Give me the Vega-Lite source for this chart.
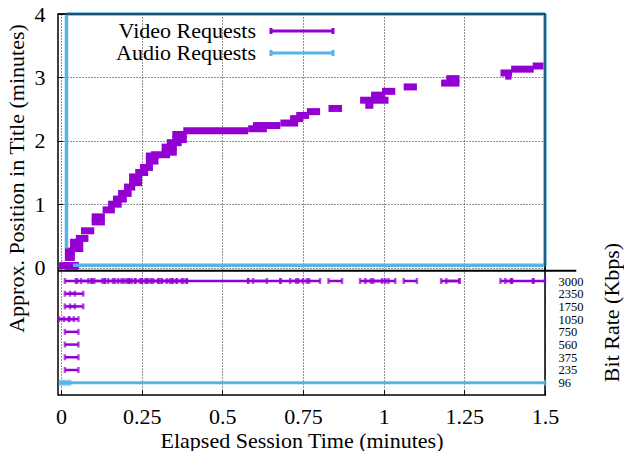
{
  "$schema": "https://vega.github.io/schema/vega-lite/v6.json",
  "autosize": {"type": "none"},
  "padding": {"left": 58, "top": 14, "right": 79, "bottom": 56},
  "width": 487,
  "height": 381,
  "config": {
    "font": "Liberation Serif",
    "view": {"stroke": "black", "strokeWidth": 1.5},
    "axis": {
      "labelFont": "Liberation Serif", "titleFont": "Liberation Serif",
      "labelColor": "black", "titleColor": "black", "titleFontWeight": "normal",
      "labelFontSize": 22, "titleFontSize": 22
    },
    "legend": {"labelFont": "Liberation Serif", "labelColor": "black"}
  },
  "datasets": {
    "video": [
      {"t0": -0.006, "t1": 0.025, "pos": 0.03, "rate": 1050, "series": "Video Requests"},
      {"t0": 0.009, "t1": 0.04, "pos": 0.03, "rate": 1050, "series": "Video Requests"},
      {"t0": 0.025, "t1": 0.054, "pos": 0.03, "rate": 1050, "series": "Video Requests"},
      {"t0": 0.012, "t1": 0.054, "pos": 0.03, "rate": 235, "series": "Video Requests"},
      {"t0": 0.012, "t1": 0.054, "pos": 0.03, "rate": 375, "series": "Video Requests"},
      {"t0": 0.012, "t1": 0.054, "pos": 0.03, "rate": 560, "series": "Video Requests"},
      {"t0": 0.012, "t1": 0.054, "pos": 0.03, "rate": 750, "series": "Video Requests"},
      {"t0": 0.012, "t1": 0.043, "pos": 0.16, "rate": 1750, "series": "Video Requests"},
      {"t0": 0.028, "t1": 0.069, "pos": 0.3, "rate": 1750, "series": "Video Requests"},
      {"t0": 0.012, "t1": 0.043, "pos": 0.26, "rate": 2350, "series": "Video Requests"},
      {"t0": 0.028, "t1": 0.069, "pos": 0.4, "rate": 2350, "series": "Video Requests"},
      {"t0": 0.012, "t1": 0.05, "pos": 0.03, "rate": 3000, "series": "Video Requests"},
      {"t0": 0.046, "t1": 0.085, "pos": 0.46, "rate": 3000, "series": "Video Requests"},
      {"t0": 0.062, "t1": 0.103, "pos": 0.58, "rate": 3000, "series": "Video Requests"},
      {"t0": 0.095, "t1": 0.136, "pos": 0.72, "rate": 3000, "series": "Video Requests"},
      {"t0": 0.095, "t1": 0.136, "pos": 0.8, "rate": 3000, "series": "Video Requests"},
      {"t0": 0.129, "t1": 0.167, "pos": 0.91, "rate": 3000, "series": "Video Requests"},
      {"t0": 0.146, "t1": 0.188, "pos": 1.0, "rate": 3000, "series": "Video Requests"},
      {"t0": 0.161, "t1": 0.204, "pos": 1.08, "rate": 3000, "series": "Video Requests"},
      {"t0": 0.177, "t1": 0.219, "pos": 1.17, "rate": 3000, "series": "Video Requests"},
      {"t0": 0.195, "t1": 0.23, "pos": 1.27, "rate": 3000, "series": "Video Requests"},
      {"t0": 0.211, "t1": 0.251, "pos": 1.34, "rate": 3000, "series": "Video Requests"},
      {"t0": 0.211, "t1": 0.251, "pos": 1.43, "rate": 3000, "series": "Video Requests"},
      {"t0": 0.23, "t1": 0.27, "pos": 1.5, "rate": 3000, "series": "Video Requests"},
      {"t0": 0.245, "t1": 0.285, "pos": 1.58, "rate": 3000, "series": "Video Requests"},
      {"t0": 0.263, "t1": 0.302, "pos": 1.68, "rate": 3000, "series": "Video Requests"},
      {"t0": 0.263, "t1": 0.302, "pos": 1.76, "rate": 3000, "series": "Video Requests"},
      {"t0": 0.279, "t1": 0.338, "pos": 1.78, "rate": 3000, "series": "Video Requests"},
      {"t0": 0.312, "t1": 0.359, "pos": 1.82, "rate": 3000, "series": "Video Requests"},
      {"t0": 0.312, "t1": 0.359, "pos": 1.9, "rate": 3000, "series": "Video Requests"},
      {"t0": 0.328, "t1": 0.374, "pos": 1.97, "rate": 3000, "series": "Video Requests"},
      {"t0": 0.345, "t1": 0.39, "pos": 2.02, "rate": 3000, "series": "Video Requests"},
      {"t0": 0.345, "t1": 0.39, "pos": 2.1, "rate": 3000, "series": "Video Requests"},
      {"t0": 0.379, "t1": 0.58, "pos": 2.16, "rate": 3000, "series": "Video Requests"},
      {"t0": 0.58, "t1": 0.638, "pos": 2.19, "rate": 3000, "series": "Video Requests"},
      {"t0": 0.595, "t1": 0.68, "pos": 2.24, "rate": 3000, "series": "Video Requests"},
      {"t0": 0.68, "t1": 0.735, "pos": 2.28, "rate": 3000, "series": "Video Requests"},
      {"t0": 0.71, "t1": 0.75, "pos": 2.35, "rate": 3000, "series": "Video Requests"},
      {"t0": 0.729, "t1": 0.769, "pos": 2.4, "rate": 3000, "series": "Video Requests"},
      {"t0": 0.762, "t1": 0.803, "pos": 2.46, "rate": 3000, "series": "Video Requests"},
      {"t0": 0.829, "t1": 0.871, "pos": 2.51, "rate": 3000, "series": "Video Requests"},
      {"t0": 0.927, "t1": 1.015, "pos": 2.64, "rate": 3000, "series": "Video Requests"},
      {"t0": 0.943, "t1": 0.968, "pos": 2.56, "rate": 3000, "series": "Video Requests"},
      {"t0": 0.961, "t1": 1.005, "pos": 2.72, "rate": 3000, "series": "Video Requests"},
      {"t0": 0.995, "t1": 1.036, "pos": 2.78, "rate": 3000, "series": "Video Requests"},
      {"t0": 1.062, "t1": 1.103, "pos": 2.85, "rate": 3000, "series": "Video Requests"},
      {"t0": 1.178, "t1": 1.235, "pos": 2.91, "rate": 3000, "series": "Video Requests"},
      {"t0": 1.194, "t1": 1.235, "pos": 2.98, "rate": 3000, "series": "Video Requests"},
      {"t0": 1.362, "t1": 1.398, "pos": 3.07, "rate": 3000, "series": "Video Requests"},
      {"t0": 1.377, "t1": 1.396, "pos": 3.02, "rate": 3000, "series": "Video Requests"},
      {"t0": 1.395, "t1": 1.465, "pos": 3.13, "rate": 3000, "series": "Video Requests"},
      {"t0": 1.462, "t1": 1.5, "pos": 3.18, "rate": 3000, "series": "Video Requests"}
    ],
    "audio": [
      {"t0": 0.017, "t1": 0.017, "p0": 0.3, "p1": 4, "series": "Audio Requests"},
      {"t0": 0.017, "t1": 1.5, "p0": 4, "p1": 4, "series": "Audio Requests"},
      {"t0": 1.5, "t1": 1.5, "p0": 0.035, "p1": 4, "series": "Audio Requests"},
      {"t0": 0.037, "t1": 1.5, "p0": 0.035, "p1": 0.035, "series": "Audio Requests"}
    ],
    "audioRate": [
      {"t0": -0.003, "t1": 0.02, "rate": 96},
      {"t0": 0.005, "t1": 0.028, "rate": 96},
      {"t0": 0.012, "t1": 1.5, "rate": 96}
    ]
  },
  "layer": [
    {
      "layer": [
        {
          "data": {"name": "video"},
          "mark": {"type": "rule", "strokeWidth": 7},
          "encoding": {
            "x": {"field": "t0", "type": "quantitative", "title": "Elapsed Session Time (minutes)",
              "scale": {"domain": [-0.0093, 1.5], "nice": false, "zero": false},
              "axis": {"values": [0, 0.25, 0.5, 0.75, 1, 1.25, 1.5], "labelExpr": "'' + datum.value", "grid": true,
                "gridColor": "black", "gridDash": [1, 2], "gridOpacity": 0.85, "domain": false,
                "labelFont": "Liberation Serif", "titleFont": "Liberation Serif",
                "tickSize": -5, "tickColor": "black", "labelPadding": 16, "labelFlush": false, "labelOverlap": false,
                "titleY": 52, "titleBaseline": "alphabetic"}},
            "x2": {"field": "t1"},
            "y": {"field": "pos", "type": "quantitative", "title": "Approx. Position in Title (minutes)",
              "scale": {"domain": [-2.01, 4], "nice": false, "zero": false},
              "axis": {"orient": "left", "values": [0, 1, 2, 3, 4], "format": "d", "grid": true,
                "gridColor": "black", "gridDash": [1, 2], "gridOpacity": 0.85, "domain": false,
                "labelFont": "Liberation Serif", "titleFont": "Liberation Serif",
                "tickSize": -5, "tickColor": "black", "labelPadding": 18, "labelBaseline": "middle",
                "titleX": -35, "titleY": 164, "titleAngle": 270, "titleAlign": "center", "titleBaseline": "alphabetic"}},
            "color": {"field": "series", "type": "nominal",
              "scale": {"domain": ["Video Requests", "Audio Requests"], "range": ["#9400d3", "#56b4e9"]},
              "legend": {"title": null, "orient": "none", "legendX": 233, "legendY": 6, "padding": 0,
                "symbolType": "M-6.2,0L6.2,0M-6.2,-0.6L-6.2,0.6M6.2,-0.6L6.2,0.6", "symbolSize": 100,
                "symbolStrokeWidth": 3, "labelFontSize": 22, "labelAlign": "right", "labelOffset": -57,
                "labelLimit": 400, "rowPadding": 0}}
          }
        },
        {
          "data": {"name": "audio"},
          "mark": {"type": "rule", "strokeWidth": 3.5},
          "encoding": {
            "x": {"field": "t0", "type": "quantitative", "title": "Elapsed Session Time (minutes)", "scale": {"domain": [-0.0093, 1.5], "nice": false, "zero": false}},
            "x2": {"field": "t1"},
            "y": {"field": "p0", "type": "quantitative", "title": "Approx. Position in Title (minutes)", "scale": {"domain": [-2.01, 4], "nice": false, "zero": false}},
            "y2": {"field": "p1"},
            "color": {"field": "series", "type": "nominal"}
          }
        },
        {
          "data": {"values": [{}]},
          "mark": {"type": "rule", "color": "black", "strokeWidth": 1.3, "opacity": 0.75},
          "encoding": {"y": {"datum": 4, "type": "quantitative", "scale": {"domain": [-2.01, 4], "nice": false, "zero": false}}}
        },
        {
          "data": {"values": [{}]},
          "mark": {"type": "rule", "color": "black", "strokeWidth": 1.3, "opacity": 0.75},
          "encoding": {
            "x": {"datum": 1.5, "type": "quantitative", "scale": {"domain": [-0.0093, 1.5], "nice": false, "zero": false}},
            "y": {"datum": -0.052, "type": "quantitative", "scale": {"domain": [-2.01, 4], "nice": false, "zero": false}},
            "y2": {"datum": 4}}
        },
        {
          "data": {"values": [{}]},
          "mark": {"type": "rule", "color": "black", "strokeWidth": 2},
          "encoding": {
            "x": {"datum": -0.0093, "type": "quantitative", "scale": {"domain": [-0.0093, 1.5], "nice": false, "zero": false}},
            "x2": {"datum": 1.597},
            "y": {"datum": -0.052, "type": "quantitative", "scale": {"domain": [-2.01, 4], "nice": false, "zero": false}}}
        }
      ]
    },
    {
      "layer": [
        {
          "data": {"name": "video"},
          "mark": {"type": "rule", "strokeWidth": 2.5, "color": "#9400d3"},
          "encoding": {
            "x": {"field": "t0", "type": "quantitative", "title": "Elapsed Session Time (minutes)", "scale": {"domain": [-0.0093, 1.5], "nice": false, "zero": false}},
            "x2": {"field": "t1"},
            "y": {"field": "rate", "type": "ordinal", "title": "Bit Rate (Kbps)",
              "scale": {"type": "point", "domain": [96, 235, 375, 560, 750, 1050, 1750, 2350, 3000], "range": [368.7, 267], "padding": 0},
              "axis": {"orient": "right", "ticks": false, "domain": false, "grid": false, "labelFontSize": 12.5,
                "labelFont": "Liberation Serif", "titleFont": "Liberation Serif",
                "labelPadding": 13, "labelAlign": "left", "labelBaseline": "middle", "labelOverlap": false,
                "titleX": 73, "titleY": 298, "titleAngle": 270, "titleAlign": "center", "titleBaseline": "alphabetic"}}
          }
        },
        {
          "data": {"name": "video"},
          "mark": {"type": "tick", "thickness": 2.5, "size": 6, "color": "#9400d3"},
          "encoding": {
            "x": {"field": "t0", "type": "quantitative", "title": "Elapsed Session Time (minutes)"},
            "y": {"field": "rate", "type": "ordinal", "title": "Bit Rate (Kbps)"}
          }
        },
        {
          "data": {"name": "video"},
          "mark": {"type": "tick", "thickness": 2.5, "size": 6, "color": "#9400d3"},
          "encoding": {
            "x": {"field": "t1", "type": "quantitative", "title": "Elapsed Session Time (minutes)"},
            "y": {"field": "rate", "type": "ordinal", "title": "Bit Rate (Kbps)"}
          }
        },
        {
          "data": {"name": "audioRate"},
          "mark": {"type": "rule", "strokeWidth": 3, "color": "#56b4e9"},
          "encoding": {
            "x": {"field": "t0", "type": "quantitative", "title": "Elapsed Session Time (minutes)"},
            "x2": {"field": "t1"},
            "y": {"field": "rate", "type": "ordinal", "title": "Bit Rate (Kbps)"}
          }
        },
        {
          "data": {"name": "audioRate"},
          "mark": {"type": "tick", "thickness": 2.5, "size": 6, "color": "#56b4e9"},
          "encoding": {
            "x": {"field": "t0", "type": "quantitative", "title": "Elapsed Session Time (minutes)"},
            "y": {"field": "rate", "type": "ordinal", "title": "Bit Rate (Kbps)"}
          }
        },
        {
          "data": {"name": "audioRate"},
          "mark": {"type": "tick", "thickness": 2.5, "size": 6, "color": "#56b4e9"},
          "encoding": {
            "x": {"field": "t1", "type": "quantitative", "title": "Elapsed Session Time (minutes)"},
            "y": {"field": "rate", "type": "ordinal", "title": "Bit Rate (Kbps)"}
          }
        }
      ]
    }
  ],
  "resolve": {"scale": {"y": "independent"}}
}
